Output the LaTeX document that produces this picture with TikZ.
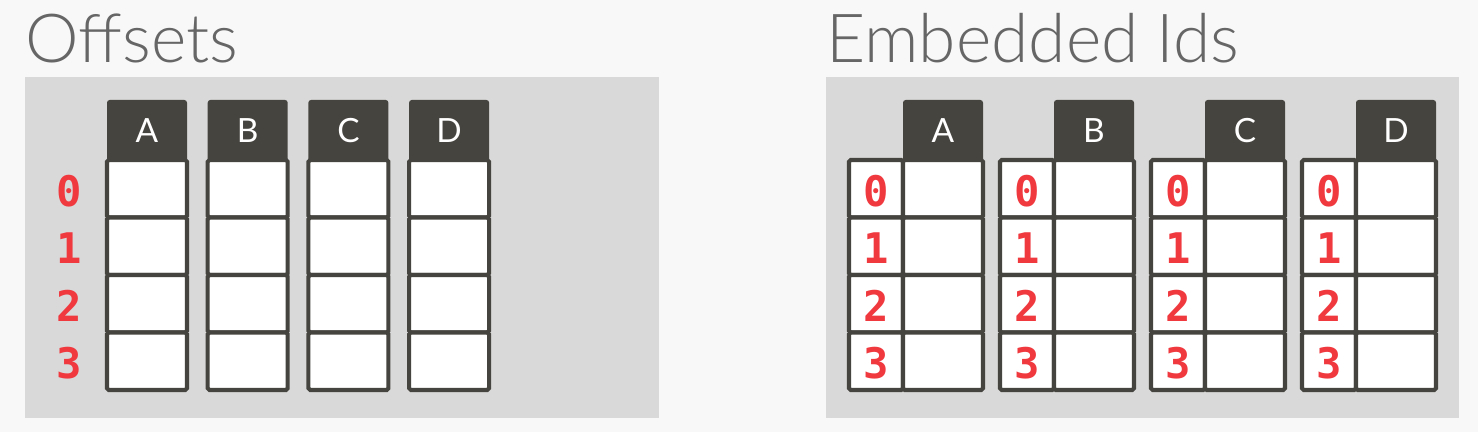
\documentclass[tikz,border=0pt]{standalone}
\usepackage{fontspec}
\newfontfamily\titlefont{Lato Light}
\newfontfamily\headfont{Lato}
\newfontfamily\numfont{DejaVu Sans Mono}
\definecolor{bg}{HTML}{F8F8F8}
\definecolor{panel}{HTML}{D9D9D9}
\definecolor{dark}{HTML}{46443F}
\definecolor{idred}{HTML}{F0383F}
\definecolor{titlegray}{HTML}{666666}
\tikzset{
  cellbox/.style={draw=dark, fill=white, line width=2.3pt, rounded corners=1pt},
  headfill/.style={fill=dark, rounded corners=1.5pt},
  headlabel/.style={text=white, font=\headfont\fontsize{19}{20}\selectfont},
  idnum/.style={text=idred, font=\numfont\bfseries\fontsize{24}{25}\selectfont},
  paneltitle/.style={text=titlegray, anchor=base west, inner sep=0pt, font=\titlefont\fontsize{38.5}{40}\selectfont}
}
\begin{document}
\begin{tikzpicture}[x=0.02cm,y=-0.02cm]
		%%%%% START %%%%%
		
		\fill[bg] (0,0) rectangle (1478,432);
		\useasboundingbox (0,0) rectangle (1478,432);
		
		% panels
		\fill[panel] (25,77) rectangle (659,418);
		\fill[panel] (826,77) rectangle (1459,418);
		
		\node[paneltitle] (offtitle) at (25,63) {Offsets};
		\node[paneltitle] (embtitle) at (826,63) {Embedded Ids};
		
		% offsets: shared row numbers on the left
		\foreach \col [count=\i from 0] in {A,B,C,D} {
			\pgfmathsetmacro\xl{107+100.7*\i}
			\fill[headfill] (\xl,100) rectangle ++(80,62);
			\node[headlabel] (off\col) at (\xl+40,131) {\col};
			\foreach \r in {0,...,3}
				\draw[cellbox] (\xl,160+57.5*\r) rectangle ++(80,57.5);
		}
		\foreach \r in {0,...,3}
			\node[idnum] (offid\r) at (69,191+57.5*\r) {\r};
		
		% embedded ids: one id column per table
		\foreach \col [count=\i from 0] in {A,B,C,D} {
			\pgfmathsetmacro\xi{849+151*\i}
			\fill[headfill] (\xi+54,100) rectangle ++(80,62);
			\node[headlabel] (emb\col) at (\xi+94,131) {\col};
			\foreach \r in {0,...,3} {
				\draw[cellbox] (\xi,160+57.5*\r) rectangle ++(54,57.5);
				\draw[cellbox] (\xi+54,160+57.5*\r) rectangle ++(80,57.5);
				\node[idnum] (emb\col\r) at (\xi+27,191+57.5*\r) {\r};
			}
		}
		
		%%%%% END %%%%%
\end{tikzpicture}
\end{document}
